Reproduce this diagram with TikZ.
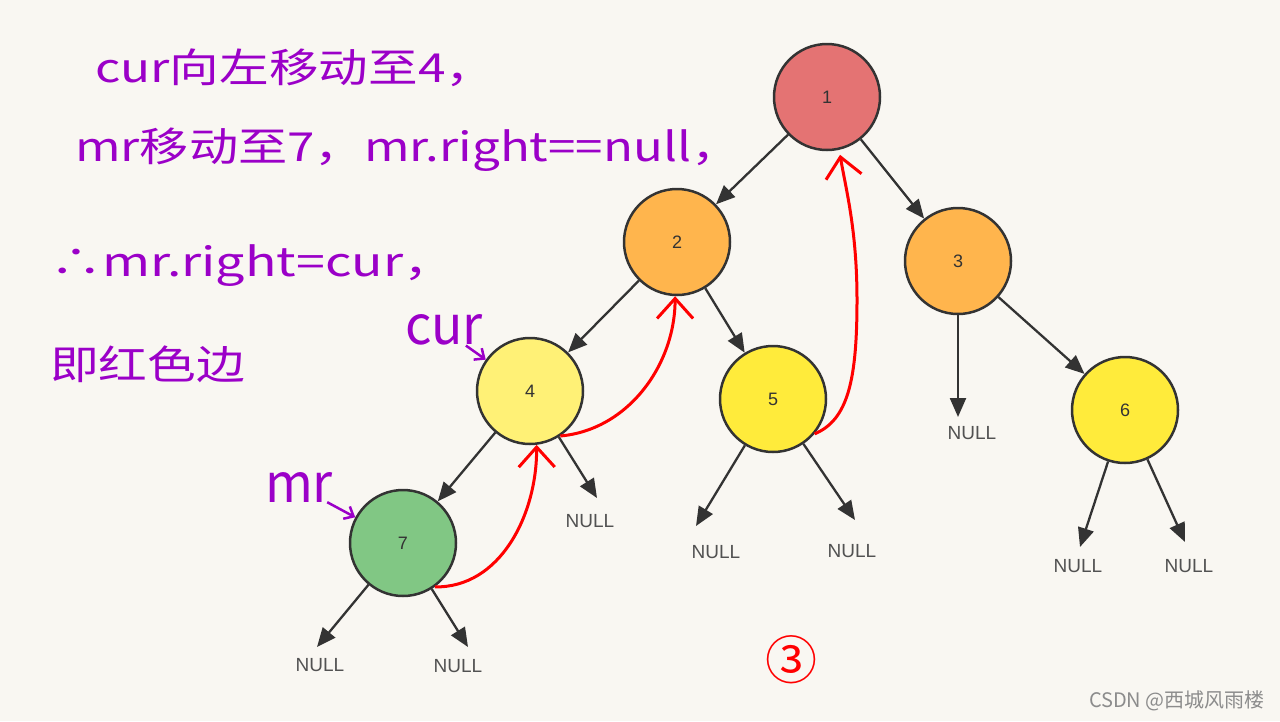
\documentclass[tikz,border=0pt]{standalone}
\usepackage{fontspec}
\usepackage{graphicx}
\setmainfont{Liberation Sans}
\newfontfamily\cjk{Noto Sans CJK SC}
\usetikzlibrary{arrows.meta}
\definecolor{paper}{RGB}{249,247,242}
\definecolor{ink}{RGB}{51,51,51}
\definecolor{pen}{RGB}{155,0,200}
\definecolor{redpen}{RGB}{255,0,0}
\definecolor{cred}{RGB}{228,115,115}
\definecolor{corange}{RGB}{255,181,77}
\definecolor{clight}{RGB}{255,241,118}
\definecolor{cyellow}{RGB}{255,235,59}
\definecolor{cgreen}{RGB}{129,199,132}

\begin{document}
\begin{tikzpicture}[x=1pt,y=-1pt,
    tnode/.style={circle, draw=ink, line width=2.5pt, minimum size=106pt, inner sep=0pt,
      font=\fontsize{18}{18}\selectfont, text=ink},
    edge/.style={draw=ink, line width=2.3pt, -{Triangle[length=19pt,width=16pt]}},
    nul/.style={font=\fontsize{19}{19}\selectfont, text=ink!85, inner sep=0pt},
    hand/.style={text=pen, font=\cjk\fontsize{40}{40}\selectfont, anchor=west, inner sep=0pt},
    tag/.style={text=pen, font=\cjk\fontsize{50}{50}\selectfont, inner sep=0pt},
    thread/.style={draw=redpen, line width=3pt, -{Straight Barb[length=20pt,width=36pt]}},
    pointer/.style={draw=pen, line width=2.5pt, -{Straight Barb[length=8pt,width=14pt]}}
  ]
  \fill[paper] (0,0) rectangle (1280,721);
  \useasboundingbox (0,0) rectangle (1280,721);

  \node[hand] (line1) at (95,68) {\resizebox{400pt}{\height}{cur向左移动至4，}};
  \node[hand] (line2) at (75,150) {\resizebox{665pt}{\height}{mr移动至7，mr.right==null，}};
  \node[hand] (line3) at (50,266) {\resizebox{405pt}{\height}{∴mr.right=cur，}};
  \node[hand] (line4) at (50,364) {\resizebox{195pt}{\height}{即红色边}};

  \node[tnode, fill=cred] (n1) at (827,97) {1};
  \node[tnode, fill=corange] (n2) at (677,242) {2};
  \node[tnode, fill=corange] (n3) at (958,261) {3};
  \node[tnode, fill=clight] (n4) at (530,391) {4};
  \node[tnode, fill=cyellow] (n5) at (773,399) {5};
  \node[tnode, fill=cyellow] (n6) at (1125,410) {6};
  \node[tnode, fill=cgreen] (n7) at (403,543) {7};

  \foreach \a/\b in {1/2,1/3,2/4,2/5,3/6,4/7}
    \draw[edge] (n\a) -- (n\b);

  \foreach \from/\side/\tx/\ty/\lx/\ly in {4/r/597/498/590/521, 5/l/696/526/716/552,
      5/r/855/520/852/551, 3/d/958/417/972/433, 6/l/1080/547/1078/566,
      6/r/1185/542/1189/566, 7/l/317/647/320/665, 7/r/468/647/458/666}{
    \coordinate (t\from\side) at (\tx,\ty);
    \node[nul] (u\from\side) at (\lx,\ly) {NULL};
    \draw[edge] (n\from) -- (t\from\side);
  }

  \node[tag] (lcur) at (444,330) {\resizebox{78pt}{30pt}{cur}};
  \node[tag] (lmr) at (299,487) {\resizebox{68pt}{30pt}{mr}};
  \draw[pointer] (lcur) -- (n4);
  \draw[pointer] (lmr) -- (n7);

  \draw[thread] (n7.-54) .. controls (500,588) and (537,515) .. (n4.-83);
  \draw[thread] (n4.-56) .. controls (628,430) and (675,365) .. (n2.-92);
  \draw[thread, shorten >=5pt] (n5.-40) .. controls (848,420) and (857,380) .. (857,300)
    .. controls (857,230) and (846,190) .. (n1.-77);

  \node[text=redpen, font=\cjk\fontsize{52}{52}\selectfont, inner sep=0pt] (step3) at (791,660) {③};
  \node[anchor=east, text=black!45, font=\cjk\fontsize{20}{20}\selectfont, inner sep=0pt] (mark)
    at (1265,701) {CSDN @西城风雨楼};
\end{tikzpicture}
\end{document}
